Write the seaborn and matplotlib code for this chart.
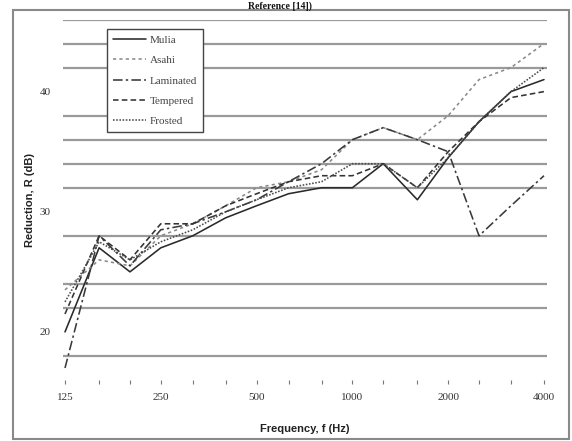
import numpy as np
import pandas as pd
import matplotlib
matplotlib.use("Agg")
import matplotlib.pyplot as plt
from matplotlib.ticker import FixedLocator, NullFormatter
from matplotlib.patches import Rectangle
import seaborn as sns

# ---------------- data ----------------
freqs = [125, 160, 200, 250, 315, 400, 500, 630, 800, 1000, 1250, 1600, 2000, 2500, 3150, 4000]
mulia     = [20.0, 27.0, 25.0, 27.0, 28.0, 29.5, 30.5, 31.5, 32.0, 32.0, 34.0, 31.0, 34.5, 37.5, 40.0, 41.0]
asahi     = [23.5, 26.0, 25.5, 28.0, 29.0, 30.5, 32.0, 32.5, 33.5, 36.0, 37.0, 36.0, 38.0, 41.0, 42.0, 44.0]
laminated = [17.0, 28.0, 25.5, 28.5, 29.0, 30.0, 31.0, 32.5, 34.0, 36.0, 37.0, 36.0, 35.0, 28.0, 30.5, 33.0]
tempered  = [21.5, 28.0, 26.0, 29.0, 29.0, 30.5, 31.5, 32.5, 33.0, 33.0, 34.0, 32.0, 35.0, 37.5, 39.5, 40.0]
frosted   = [22.5, 27.5, 26.0, 27.5, 28.5, 30.0, 31.0, 32.0, 32.5, 34.0, 34.0, 32.0, 34.5, 37.5, 40.0, 42.0]

series_names = ["Mulia", "Asahi", "Laminated", "Tempered", "Frosted"]
series_values = [mulia, asahi, laminated, tempered, frosted]

x_tick_values = [125, 250, 500, 1000, 2000, 4000]
x_tick_labels = ["125", "250", "500", "1000", "2000", "4000"]
y_tick_values = [20, 30, 40]
y_grid_values = [18, 20, 22, 24, 28, 30, 32, 34, 36, 38, 40, 42, 44, 46]

title_text = "Reference [14])"
x_label = "Frequency, f (Hz)"
y_label = "Reduction, R (dB)"

df = pd.DataFrame({
    "Frequency": np.tile(freqs, len(series_names)),
    "R": np.concatenate(series_values),
    "Glass": np.repeat(series_names, len(freqs)),
})

# ---------------- styling ----------------
sns.set_style("white")
plt.rcParams["font.family"] = ["Liberation Serif", "DejaVu Serif"]

palette = {"Mulia": "#2a2a2a", "Asahi": "#8a8a8a", "Laminated": "#3a3a3a",
           "Tempered": "#333333", "Frosted": "#4a4a4a"}
dashes = {"Mulia": "", "Asahi": (2.0, 2.0), "Laminated": (6, 2, 1.5, 2),
          "Tempered": (3.5, 2.0), "Frosted": (1.0, 1.0)}

W, H = 572, 441
fig = plt.figure(figsize=(W / 100, H / 100), dpi=100)
left, right, top, bottom = 63, 547, 19.5, 380
ax = fig.add_axes([left / W, (H - bottom) / H, (right - left) / W, (bottom - top) / H])

sns.lineplot(data=df, x="Frequency", y="R", hue="Glass", style="Glass",
             hue_order=series_names, style_order=series_names,
             palette=palette, dashes=dashes, linewidth=1.15, ax=ax,
             legend=True)

ax.set_xscale("log", base=2)
span = np.log2(4000) - np.log2(125)
px = (right - left)
per_px = span / (px - 2 - 3)
ax.set_xlim(2 ** (np.log2(125) - 2 * per_px), 2 ** (np.log2(4000) + 3 * per_px))
ax.set_ylim(16, 46)

# ticks
ax.xaxis.set_major_locator(FixedLocator(x_tick_values))
ax.set_xticklabels(x_tick_labels)
ax.xaxis.set_minor_locator(FixedLocator([f for f in freqs if f not in x_tick_values]))
ax.xaxis.set_minor_formatter(NullFormatter())
ax.tick_params(axis="x", which="both", length=3, width=0.8, color="#777777",
               direction="out", pad=6, labelsize=8, labelcolor="#333333", bottom=True)

ax.yaxis.set_major_locator(FixedLocator(y_tick_values))
ax.yaxis.set_minor_locator(FixedLocator(y_grid_values))
ax.yaxis.set_minor_formatter(NullFormatter())
ax.tick_params(axis="y", which="both", length=0, pad=9, labelsize=8, labelcolor="#333333")

ax.grid(False)
ax.yaxis.grid(True, which="minor", color="#9a9a9a", linewidth=1.6)
ax.set_axisbelow(True)
for s in ax.spines.values():
    s.set_visible(False)

ax.set_xlabel(x_label, fontsize=8, fontweight="bold", family=["Liberation Sans", "DejaVu Sans"],
              color="#222222", labelpad=16)
ax.set_ylabel(y_label, fontsize=8, fontweight="bold", family=["Liberation Sans", "DejaVu Sans"],
              color="#222222", labelpad=3)

# legend
handles, labels = ax.get_legend_handles_labels()
leg = ax.legend(handles, labels, loc="upper left",
                bbox_to_anchor=((107 - left) / px, (bottom - 29) / (bottom - top)),
                frameon=True, fancybox=False, fontsize=8, handlelength=3.0,
                handletextpad=0.3, labelspacing=0.95, borderpad=0.55,
                borderaxespad=0, edgecolor="#444444", framealpha=1)
leg.get_frame().set_linewidth(1.0)
for t in leg.get_texts():
    t.set_color("#444444")

# outer frame and heading
fig.patches.append(Rectangle((13 / W, 2 / H), (569 - 13) / W, (H - 10 - 2) / H,
                             transform=fig.transFigure, fill=False,
                             edgecolor="#8a8a8a", linewidth=1.5))
fig.text(0.49, 1 - 1 / H, title_text, ha="center", va="top",
         fontsize=7, fontweight="bold", color="#111111")

fig.savefig("out.png", dpi=100)
